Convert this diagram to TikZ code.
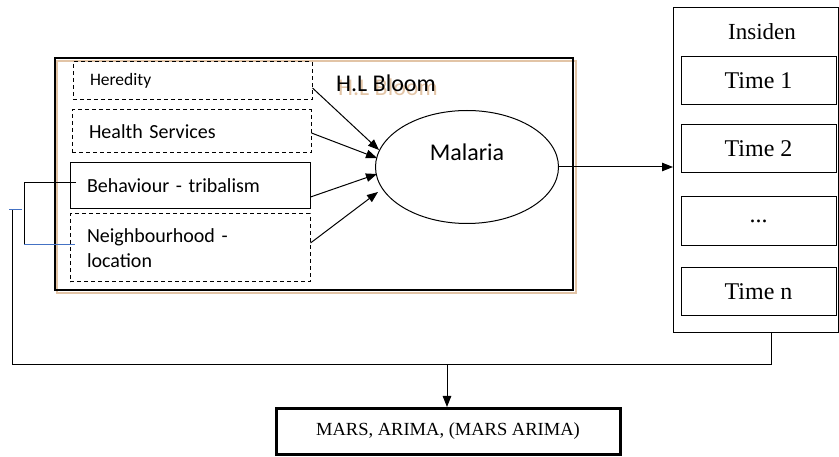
\documentclass[tikz,border=0pt]{standalone}
\usepackage{fontspec}
\setmainfont{Liberation Serif}
\newfontfamily\carlitofont{Carlito}
\usetikzlibrary{arrows.meta,shapes.geometric}
\definecolor{shadowtan}{RGB}{226,196,166}
\definecolor{linkblue}{RGB}{68,114,196}
\begin{document}
\begin{tikzpicture}[x=1pt,y=-1pt,
  line width=1pt,
  arr/.style={-{Triangle[length=11pt,width=8.5pt]}},
  factor/.style={draw,rectangle,inner ysep=0pt,align=left,font=\carlitofont\fontsize{20}{25}\selectfont},
  dashbox/.style={factor,dash pattern=on 4pt off 3pt},
  timebox/.style={draw,rectangle,minimum width=155pt,inner sep=0pt,font=\fontsize{24}{28}\selectfont}
]
\useasboundingbox (0,0) rectangle (839,457);

% H.L Bloom frame with tan shadow
\draw[shadowtan,line width=1.5pt] (57,61) rectangle (576,293);
\draw[line width=1.3pt] (55,58) rectangle (573,290);
\node[text=shadowtan,font=\carlitofont\fontsize{24}{28}\selectfont] (hlbs) at (388,87) {H.L Bloom};
\node[font=\carlitofont\fontsize{24}{28}\selectfont] (hlb) at (386,83) {H.L Bloom};

% factor boxes
\node[dashbox,font=\carlitofont\fontsize{17.5}{21}\selectfont,minimum height=38pt,inner xsep=17pt,text width=205pt] (her) at (192.5,81) {Heredity};
\node[dashbox,minimum height=43pt,inner xsep=17pt,text width=205pt] (hs) at (191.5,131.5) {Health Services};
\node[factor,minimum height=46pt,inner xsep=17pt,text width=206pt] (beh) at (190,186) {Behaviour - tribalism};
\node[dashbox,minimum height=68pt,inner xsep=17pt,text width=206pt] (nb) at (190,248) {Neighbourhood -\\location};

% Malaria
\node[draw,ellipse,minimum width=183pt,minimum height=113pt,inner sep=0pt] (mal) at (467,167) {};
\node[font=\carlitofont\fontsize{24}{28}\selectfont] (mallab) at (467,152) {Malaria};

\draw[arr] ([yshift=-7pt]her.east) -- ([xshift=4pt,yshift=17pt]mal.west);
\draw[arr] ([yshift=-1.5pt]hs.east) -- ([xshift=2pt,yshift=9pt]mal.west);
\draw[arr] ([yshift=-11pt]beh.east) -- ([xshift=2pt,yshift=-7pt]mal.west);
\draw[arr] ([yshift=5pt]nb.east) -- ([xshift=3pt,yshift=-25pt]mal.west);

% Insiden
\node[draw,rectangle,minimum width=165pt,minimum height=325pt,inner sep=0pt] (ins) at (755.5,170.5) {};
\node[font=\fontsize{23}{27}\selectfont] (inslab) at (762,32) {Insiden};
\node[timebox,minimum height=48pt] (t1) at (758.5,81) {Time 1};
\node[timebox,minimum height=48pt] (t2) at (758.5,149) {Time 2};
\node[timebox,minimum height=49pt] (t3) at (758.5,221.5) {...};
\node[timebox,minimum height=48pt] (tn) at (758.5,292) {Time n};

\coordinate (insin) at (673,167);
\draw[arr] (mal.east) -- (insin);

% bottom connector
\coordinate (jb) at (771,333);
\coordinate (jr) at (771,365);
\coordinate (jl) at (12,365);
\coordinate (jt) at (12,210);
\coordinate (jm) at (447,365);
\coordinate (mtop) at (447,407);
\draw (jb) -- (jr) -- (jl) -- (jt);
\coordinate (stubl) at (9,210);
\coordinate (stubr) at (22,210);
\draw[linkblue] (stubl) -- (stubr);

% left bracket
\coordinate (bkt) at (76,183);
\coordinate (bk) at (24,245);
\coordinate (bke) at (75,245);
\draw (bkt) -| (bk);
\draw[linkblue] (bk) -- (bke);

% MARS box
\node[draw,rectangle,line width=3pt,minimum width=344pt,minimum height=46pt,inner sep=0pt,font=\fontsize{18.5}{22}\selectfont] (mars) at (448,431) {MARS, ARIMA, (MARS ARIMA)};
\draw[arr] (jm) -- (mtop);
\end{tikzpicture}
\end{document}
